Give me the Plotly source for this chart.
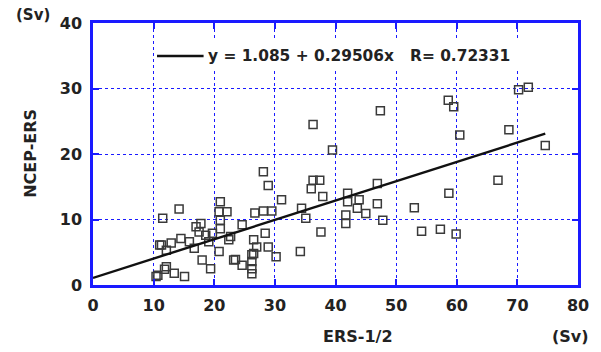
import plotly.graph_objects as go

# Scatter data: ERS-1/2 (x, Sv) vs NCEP-ERS (y, Sv)
ers = [10.7, 12.1, 13.4, 15.1, 10.4, 11.8,
       11.0, 11.3, 12.9, 12.1, 14.5, 15.9, 16.7,
       11.5, 14.2,
       17.0, 17.8, 17.5, 18.6, 19.1, 19.7,
       18.0, 19.4,
       20.8, 21.0, 22.1,
       21.0, 21.0, 20.8, 22.4, 22.7, 23.2,
       23.5, 24.6, 24.6,
       26.2, 26.2, 26.2, 26.2, 26.5, 27.0, 26.5,
       26.7, 28.1, 29.5,
       28.4, 28.9, 30.2,
       28.1, 28.9, 31.1,
       34.2, 34.4, 35.1,
       36.3, 37.4, 36.0, 37.9, 36.3, 39.5, 37.6,
       42.0, 42.0, 43.9, 43.6, 45.0, 41.7, 41.7,
       46.9, 46.9, 47.8, 47.4,
       53.0, 54.2, 57.3, 59.9, 58.7,
       66.8, 68.6, 74.6, 60.5, 58.6, 59.5, 70.2, 71.8]
ncep = [1.5, 2.8, 1.8, 1.3, 1.3, 2.4,
        6.1, 6.1, 6.4, 5.3, 7.1, 6.6, 5.6,
        10.2, 11.6,
        8.9, 9.4, 8.1, 7.6, 6.6, 7.9,
        3.8, 2.5,
        11.2, 12.7, 11.2,
        9.9, 8.6, 5.1, 6.9, 7.4, 3.8,
        3.9, 3.0, 9.2,
        4.6, 3.6, 2.5, 1.7, 6.9, 5.8, 4.8,
        11.0, 11.3, 11.3,
        7.9, 5.8, 4.3,
        17.3, 15.2, 13.0,
        5.1, 11.7, 10.2,
        16.0, 16.0, 14.7, 13.5, 24.5, 20.6, 8.1,
        14.0, 12.7, 13.0, 11.7, 10.9, 10.7, 9.4,
        12.4, 15.5, 9.9, 26.6,
        11.8, 8.2, 8.5, 7.8, 14.0,
        16.0, 23.7, 21.3, 22.9, 28.2, 27.2, 29.8, 30.2]

# Regression fit shown in the key
intercept = 1.085
slope = 0.29506
r_value = 0.72331
fit_x = [0, 74.6]
fit_y = [intercept + slope * v for v in fit_x]
fit_label = f"y = {intercept} + {slope}x   R= {r_value}"

x_ticks = [0, 10, 20, 30, 40, 50, 60, 70, 80]
y_ticks = [0, 10, 20, 30, 40]

BLUE = "#1a1aff"
TXT = "#222222"
FONT = "DejaVu Sans"


def f(size):
    return dict(family=FONT, size=size, color=TXT, weight="bold")


fig = go.Figure()
fig.add_trace(go.Scatter(
    x=ers, y=ncep, mode="markers", showlegend=False,
    marker=dict(symbol="square-open", size=8, color="#3a3a3a",
                line=dict(width=1.5, color="#3a3a3a")),
))
fig.add_trace(go.Scatter(
    x=fit_x, y=fit_y, mode="lines", showlegend=False,
    line=dict(color="#111111", width=2.4),
))

axis_common = dict(
    showline=True, linecolor=BLUE, linewidth=2.5, mirror="ticks",
    ticks="inside", ticklen=6, tickwidth=2, tickcolor=BLUE,
    showgrid=True, gridcolor=BLUE, griddash="dot", gridwidth=1,
    zeroline=False, tickfont=f(16),
)

fig.update_xaxes(range=[0, 80], tickvals=x_ticks, ticklabelstandoff=4, **axis_common)
fig.update_yaxes(range=[0, 40], tickvals=y_ticks, ticklabelstandoff=5, **axis_common)

fig.update_layout(
    width=601, height=352,
    margin=dict(l=93, r=17, t=23, b=67),
    plot_bgcolor="white", paper_bgcolor="white",
    font=f(16),
    showlegend=False,
    shapes=[
        # white key box masking the grid
        dict(type="rect", xref="paper", yref="paper",
             x0=0.128, x1=0.885, y0=0.825, y1=0.94,
             fillcolor="white", line=dict(width=0), layer="above"),
        # key line sample
        dict(type="line", xref="paper", yref="paper",
             x0=0.132, x1=0.228, y0=0.874, y1=0.874,
             line=dict(color="#111111", width=2.4), layer="above"),
    ],
    annotations=[
        dict(text=fit_label, xref="paper", yref="paper", x=0.234, y=0.874,
             xanchor="left", yanchor="middle", showarrow=False, font=f(15.4)),
        dict(text="(Sv)", xref="paper", yref="paper", x=-0.124, y=1.031,
             xanchor="center", yanchor="middle", showarrow=False, font=f(15)),
        dict(text="(Sv)", xref="paper", yref="paper", x=0.984, y=-0.198,
             xanchor="center", yanchor="middle", showarrow=False, font=f(16)),
        dict(text="ERS-1/2", xref="paper", yref="paper", x=0.546, y=-0.198,
             xanchor="center", yanchor="middle", showarrow=False, font=f(16)),
        dict(text="NCEP-ERS", xref="paper", yref="paper", x=-0.128, y=0.504,
             xanchor="center", yanchor="middle",
             textangle=-90, showarrow=False, font=f(16)),
    ],
)

fig.write_html("out.html", config={"displayModeBar": False},
               post_script="document.body.style.margin='0';")
